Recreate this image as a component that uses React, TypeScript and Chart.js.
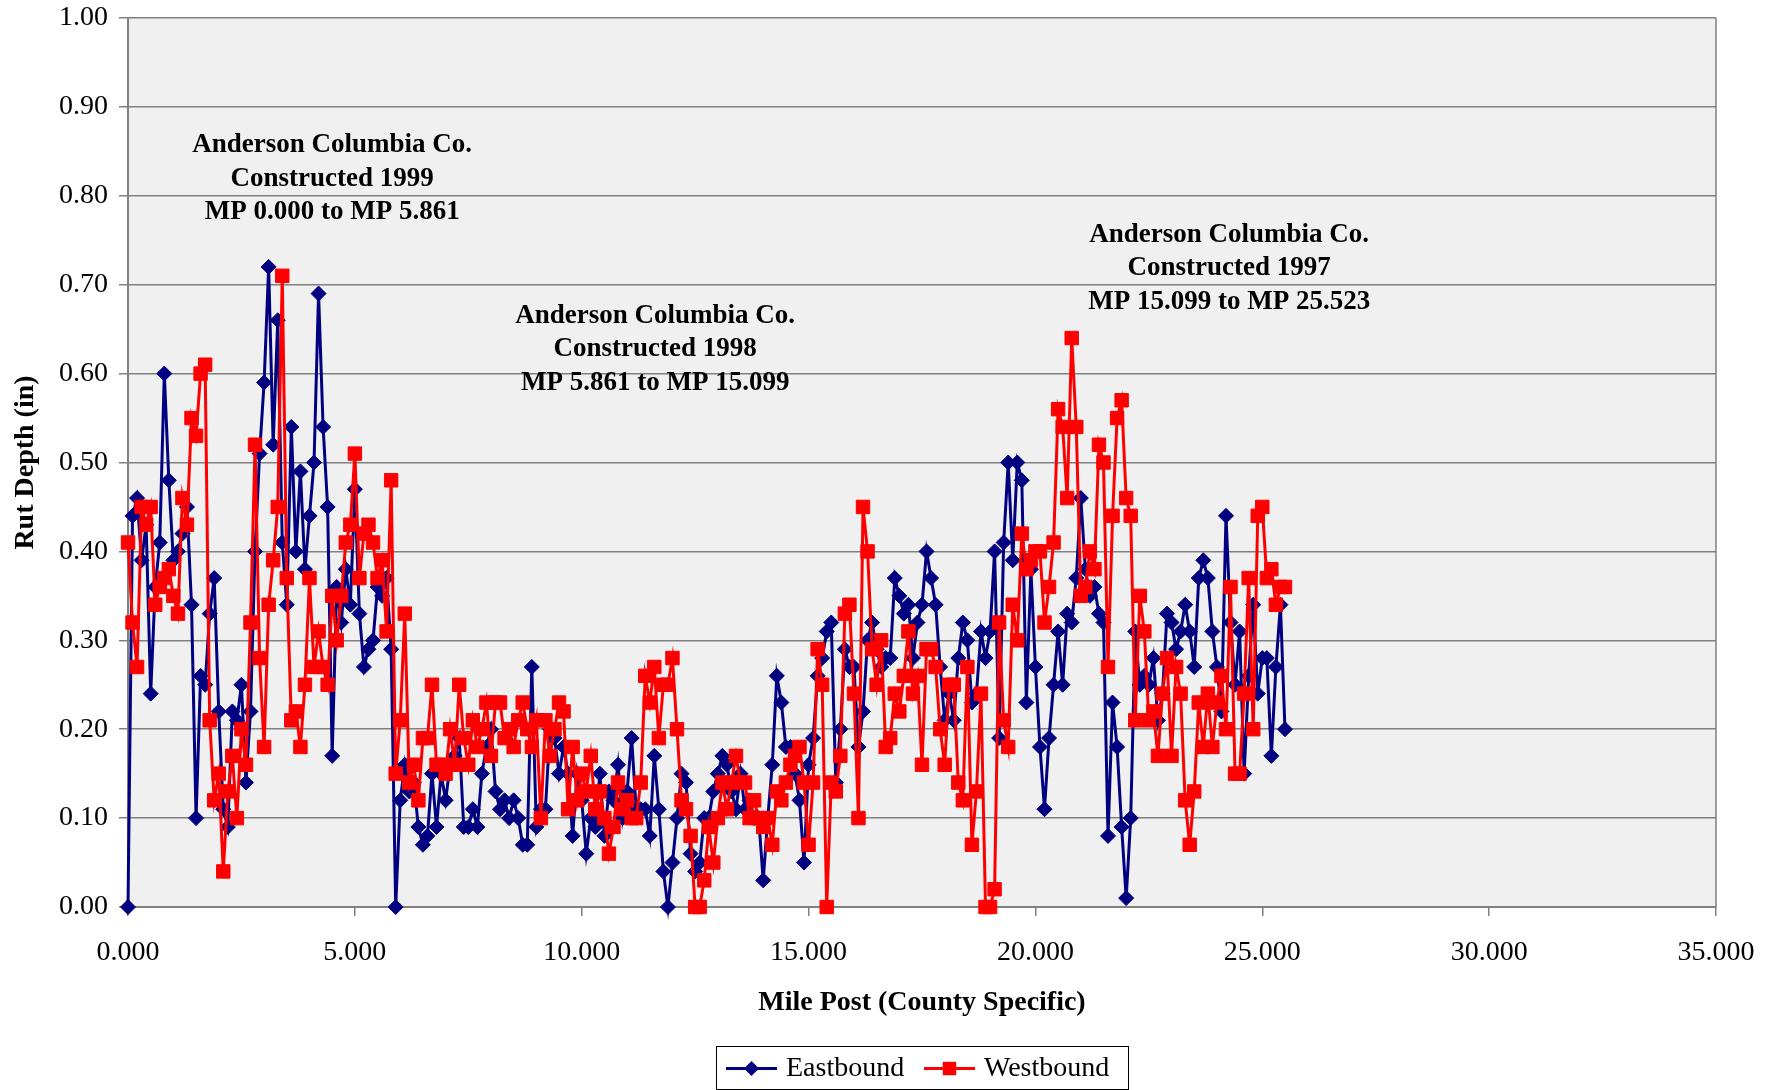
import React, { useEffect, useRef } from "react";
import { Chart, registerables } from "chart.js";

Chart.register(...registerables);

// Mile posts (shared by both directions)
const mileposts: number[] = [
  0.0, 0.1, 0.2, 0.3, 0.4, 0.5, 0.6, 0.7, 0.8, 0.9,
  1.0, 1.1, 1.2, 1.3, 1.4, 1.5, 1.6, 1.7, 1.8, 1.9,
  2.0, 2.1, 2.2, 2.3, 2.4, 2.5, 2.6, 2.7, 2.8, 2.9,
  3.0, 3.1, 3.2, 3.3, 3.4, 3.5, 3.6, 3.7, 3.8, 3.9,
  4.0, 4.1, 4.2, 4.3, 4.4, 4.5, 4.6, 4.7, 4.8, 4.9,
  5.0, 5.1, 5.2, 5.3, 5.4, 5.5, 5.6, 5.7, 5.8, 5.9,
  6.0, 6.1, 6.2, 6.3, 6.4, 6.5, 6.6, 6.7, 6.8, 6.9,
  7.0, 7.1, 7.2, 7.3, 7.4, 7.5, 7.6, 7.7, 7.8, 7.9,
  8.0, 8.1, 8.2, 8.3, 8.4, 8.5, 8.6, 8.7, 8.8, 8.9,
  9.0, 9.1, 9.2, 9.3, 9.4, 9.5, 9.6, 9.7, 9.8, 9.9,
  10.0, 10.1, 10.2, 10.3, 10.4, 10.5, 10.6, 10.7, 10.8, 10.9,
  11.0, 11.1, 11.2, 11.3, 11.4, 11.5, 11.6, 11.7, 11.8, 11.9,
  12.0, 12.1, 12.2, 12.3, 12.4, 12.5, 12.6, 12.7, 12.8, 12.9,
  13.0, 13.1, 13.2, 13.3, 13.4, 13.5, 13.6, 13.7, 13.8, 13.9,
  14.0, 14.1, 14.2, 14.3, 14.4, 14.5, 14.6, 14.7, 14.8, 14.9,
  15.0, 15.1, 15.2, 15.3, 15.4, 15.5, 15.6, 15.7, 15.8, 15.9,
  16.0, 16.1, 16.2, 16.3, 16.4, 16.5, 16.6, 16.7, 16.8, 16.9,
  17.0, 17.1, 17.2, 17.3, 17.4, 17.5, 17.6, 17.7, 17.8, 17.9,
  18.0, 18.1, 18.2, 18.3, 18.4, 18.5, 18.6, 18.7, 18.8, 18.9,
  19.0, 19.1, 19.2, 19.3, 19.4, 19.5, 19.6, 19.7, 19.8, 19.9,
  20.0, 20.1, 20.2, 20.3, 20.4, 20.5, 20.6, 20.7, 20.8, 20.9,
  21.0, 21.1, 21.2, 21.3, 21.4, 21.5, 21.6, 21.7, 21.8, 21.9,
  22.0, 22.1, 22.2, 22.3, 22.4, 22.5, 22.6, 22.7, 22.8, 22.9,
  23.0, 23.1, 23.2, 23.3, 23.4, 23.5, 23.6, 23.7, 23.8, 23.9,
  24.0, 24.1, 24.2, 24.3, 24.4, 24.5, 24.6, 24.7, 24.8, 24.9,
  25.0, 25.1, 25.2, 25.3, 25.4, 25.5,
];

// Rut depth (in), Eastbound
const eastbound: number[] = [
  0.00, 0.44, 0.46, 0.39, 0.43, 0.24, 0.36, 0.41, 0.60, 0.48,
  0.39, 0.40, 0.42, 0.45, 0.34, 0.10, 0.26, 0.25, 0.33, 0.37,
  0.22, 0.11, 0.09, 0.22, 0.21, 0.25, 0.14, 0.22, 0.40, 0.51,
  0.59, 0.72, 0.52, 0.66, 0.41, 0.34, 0.54, 0.40, 0.49, 0.38,
  0.44, 0.50, 0.69, 0.54, 0.45, 0.17, 0.36, 0.32, 0.38, 0.34,
  0.47, 0.33, 0.27, 0.29, 0.30, 0.36, 0.35, 0.37, 0.29, 0.00,
  0.12, 0.16, 0.13, 0.14, 0.09, 0.07, 0.08, 0.15, 0.09, 0.15,
  0.12, 0.16, 0.17, 0.19, 0.09, 0.09, 0.11, 0.09, 0.15, 0.18,
  0.20, 0.13, 0.11, 0.12, 0.10, 0.12, 0.10, 0.07, 0.07, 0.27,
  0.09, 0.11, 0.11, 0.20, 0.19, 0.15, 0.18, 0.15, 0.08, 0.15,
  0.12, 0.06, 0.10, 0.09, 0.15, 0.08, 0.13, 0.12, 0.16, 0.10,
  0.13, 0.19, 0.11, 0.11, 0.11, 0.08, 0.17, 0.11, 0.04, 0.00,
  0.05, 0.10, 0.15, 0.14, 0.06, 0.04, 0.05, 0.10, 0.10, 0.13,
  0.15, 0.17, 0.16, 0.13, 0.11, 0.15, 0.11, 0.12, 0.10, 0.10,
  0.03, 0.10, 0.16, 0.26, 0.23, 0.18, 0.18, 0.15, 0.12, 0.05,
  0.16, 0.19, 0.26, 0.28, 0.31, 0.32, 0.14, 0.20, 0.29, 0.27,
  0.27, 0.18, 0.22, 0.30, 0.32, 0.29, 0.27, 0.28, 0.28, 0.37,
  0.35, 0.33, 0.34, 0.28, 0.32, 0.34, 0.40, 0.37, 0.34, 0.27,
  0.21, 0.24, 0.21, 0.28, 0.32, 0.30, 0.23, 0.24, 0.31, 0.28,
  0.31, 0.40, 0.19, 0.41, 0.50, 0.39, 0.50, 0.48, 0.23, 0.38,
  0.27, 0.18, 0.11, 0.19, 0.25, 0.31, 0.25, 0.33, 0.32, 0.37,
  0.46, 0.38, 0.35, 0.36, 0.33, 0.32, 0.08, 0.23, 0.18, 0.09,
  0.01, 0.10, 0.31, 0.25, 0.26, 0.25, 0.28, 0.21, 0.24, 0.33,
  0.32, 0.29, 0.31, 0.34, 0.31, 0.27, 0.37, 0.39, 0.37, 0.31,
  0.27, 0.22, 0.44, 0.32, 0.25, 0.31, 0.15, 0.26, 0.34, 0.24,
  0.28, 0.28, 0.17, 0.27, 0.34, 0.20,
];

// Rut depth (in), Westbound
const westbound: number[] = [
  0.41, 0.32, 0.27, 0.45, 0.43, 0.45, 0.34, 0.36, 0.37, 0.38,
  0.35, 0.33, 0.46, 0.43, 0.55, 0.53, 0.60, 0.61, 0.21, 0.12,
  0.15, 0.04, 0.13, 0.17, 0.10, 0.20, 0.16, 0.32, 0.52, 0.28,
  0.18, 0.34, 0.39, 0.45, 0.71, 0.37, 0.21, 0.22, 0.18, 0.25,
  0.37, 0.27, 0.31, 0.27, 0.25, 0.35, 0.30, 0.35, 0.41, 0.43,
  0.51, 0.37, 0.42, 0.43, 0.41, 0.37, 0.39, 0.31, 0.48, 0.15,
  0.21, 0.33, 0.14, 0.16, 0.12, 0.19, 0.19, 0.25, 0.16, 0.16,
  0.15, 0.20, 0.16, 0.25, 0.19, 0.16, 0.21, 0.18, 0.20, 0.23,
  0.17, 0.23, 0.23, 0.19, 0.20, 0.18, 0.21, 0.23, 0.20, 0.18,
  0.21, 0.10, 0.21, 0.17, 0.20, 0.23, 0.22, 0.11, 0.18, 0.12,
  0.15, 0.13, 0.17, 0.11, 0.13, 0.10, 0.06, 0.09, 0.14, 0.11,
  0.12, 0.10, 0.10, 0.14, 0.26, 0.23, 0.27, 0.19, 0.25, 0.25,
  0.28, 0.20, 0.12, 0.11, 0.08, 0.00, 0.00, 0.03, 0.09, 0.05,
  0.10, 0.14, 0.11, 0.14, 0.17, 0.14, 0.14, 0.10, 0.12, 0.10,
  0.09, 0.10, 0.07, 0.13, 0.12, 0.14, 0.16, 0.17, 0.18, 0.14,
  0.07, 0.14, 0.29, 0.25, 0.00, 0.14, 0.13, 0.17, 0.33, 0.34,
  0.24, 0.10, 0.45, 0.40, 0.29, 0.25, 0.30, 0.18, 0.19, 0.24,
  0.22, 0.26, 0.31, 0.24, 0.26, 0.16, 0.29, 0.29, 0.27, 0.20,
  0.16, 0.25, 0.25, 0.14, 0.12, 0.27, 0.07, 0.13, 0.24, 0.00,
  0.00, 0.02, 0.32, 0.21, 0.18, 0.34, 0.30, 0.42, 0.38, 0.39,
  0.40, 0.40, 0.32, 0.36, 0.41, 0.56, 0.54, 0.46, 0.64, 0.54,
  0.35, 0.36, 0.40, 0.38, 0.52, 0.50, 0.27, 0.44, 0.55, 0.57,
  0.46, 0.44, 0.21, 0.35, 0.31, 0.21, 0.22, 0.17, 0.24, 0.28,
  0.17, 0.27, 0.24, 0.12, 0.07, 0.13, 0.23, 0.18, 0.24, 0.18,
  0.23, 0.26, 0.20, 0.36, 0.15, 0.15, 0.24, 0.37, 0.20, 0.44,
  0.45, 0.37, 0.38, 0.34, 0.36, 0.36,
];

const seriesNames: string[] = ["Eastbound", "Westbound"];
const xTitle = "Mile Post (County Specific)";
const yTitle = "Rut Depth (in)";

// Contractor notes: text lines, anchor milepost and anchor rut depth of first line
const noteLines: string[][] = [
  ["Anderson Columbia Co.", "Constructed 1999", "MP 0.000 to MP 5.861"],
  ["Anderson Columbia Co.", "Constructed 1998", "MP 5.861 to MP 15.099"],
  ["Anderson Columbia Co.", "Constructed 1997", "MP 15.099 to MP 25.523"],
];
const noteMile: number[] = [4.5, 11.62, 24.27];
const noteDepth: number[] = [0.857, 0.665, 0.756];

const FONT = '"Liberation Serif", "Times New Roman", serif';
const EAST_COLOR = "#000080";
const WEST_COLOR = "#FF0000";

const drawMarker = (ctx: CanvasRenderingContext2D, style: string, x: number, y: number, r: number, color: string) => {
  ctx.fillStyle = color;
  ctx.beginPath();
  if (style === "rectRot") {
    ctx.moveTo(x - r, y);
    ctx.lineTo(x, y - r);
    ctx.lineTo(x + r, y);
    ctx.lineTo(x, y + r);
    ctx.closePath();
  } else {
    const s = r * Math.SQRT1_2;
    ctx.rect(x - s, y - s, 2 * s, 2 * s);
  }
  ctx.fill();
};

const decorPlugin = {
  id: "decor",
  beforeDraw(chart: any) {
    const { ctx, chartArea: a } = chart;
    ctx.save();
    ctx.fillStyle = "#FFFFFF";
    ctx.fillRect(0, 0, chart.width, chart.height);
    ctx.fillStyle = "#F0F0F0";
    ctx.fillRect(a.left, a.top, a.right - a.left, a.bottom - a.top);
    ctx.restore();
  },
  beforeDatasetsDraw(chart: any) {
    const { ctx, chartArea: a } = chart;
    ctx.save();
    ctx.strokeStyle = "#808080";
    ctx.lineWidth = 1.5;
    ctx.beginPath();
    ctx.moveTo(a.right, a.top);
    ctx.lineTo(a.right, a.bottom);
    ctx.stroke();
    ctx.restore();
  },
  afterDraw(chart: any) {
    const { ctx } = chart;
    const xs = chart.scales.x;
    const ys = chart.scales.y;
    ctx.save();
    // notes
    ctx.fillStyle = "#000000";
    ctx.font = `bold 27px ${FONT}`;
    ctx.textAlign = "center";
    ctx.textBaseline = "middle";
    noteLines.forEach((lines, i) => {
      const x = xs.getPixelForValue(noteMile[i]);
      const y0 = ys.getPixelForValue(noteDepth[i]);
      lines.forEach((t, j) => ctx.fillText(t, x, y0 + j * 33.5));
    });
    // legend
    const bx = 716, by = 1046, bw = 412, bh = 43;
    ctx.strokeStyle = "#000000";
    ctx.lineWidth = 1;
    ctx.strokeRect(bx + 0.5, by + 0.5, bw, bh);
    const cy = by + bh / 2 + 1;
    const items = [
      { name: seriesNames[0], color: EAST_COLOR, style: "rectRot", r: 7.5, x0: 726, x1: 777, tx: 786 },
      { name: seriesNames[1], color: WEST_COLOR, style: "rect", r: 9.5, x0: 924, x1: 975, tx: 984 },
    ];
    ctx.font = `28px ${FONT}`;
    ctx.textAlign = "left";
    items.forEach((it) => {
      ctx.strokeStyle = it.color;
      ctx.lineWidth = 3;
      ctx.beginPath();
      ctx.moveTo(it.x0, cy);
      ctx.lineTo(it.x1, cy);
      ctx.stroke();
      drawMarker(ctx, it.style, (it.x0 + it.x1) / 2, cy, it.r, it.color);
      ctx.fillStyle = "#000000";
      ctx.fillText(it.name, it.tx, cy);
    });
    ctx.restore();
  },
};

export default function App() {
  const canvasRef = useRef<HTMLCanvasElement | null>(null);

  useEffect(() => {
    document.body.style.margin = "0";
    const canvas = canvasRef.current;
    if (!canvas) return;
    const eastData = mileposts.map((m, i) => ({ x: m, y: eastbound[i] }));
    const westData = mileposts.map((m, i) => ({ x: m, y: westbound[i] }));

    const chart = new Chart(canvas, {
      type: "line",
      data: {
        datasets: [
          {
            label: seriesNames[0],
            data: eastData,
            borderColor: EAST_COLOR,
            backgroundColor: EAST_COLOR,
            borderWidth: 3,
            pointStyle: "rectRot",
            pointRadius: 7.5,
            pointBorderWidth: 1,
            pointBackgroundColor: EAST_COLOR,
            pointBorderColor: EAST_COLOR,
            tension: 0,
            fill: false,
            clip: false,
            order: 1,
          },
          {
            label: seriesNames[1],
            data: westData,
            borderColor: WEST_COLOR,
            backgroundColor: WEST_COLOR,
            borderWidth: 3,
            pointStyle: "rect",
            pointRadius: 9.5,
            pointBorderWidth: 1,
            pointBackgroundColor: WEST_COLOR,
            pointBorderColor: WEST_COLOR,
            tension: 0,
            fill: false,
            clip: false,
            order: 0,
          },
        ],
      },
      options: {
        responsive: false,
        animation: false,
        layout: { padding: { top: 18, right: 62, left: 0, bottom: 0 } },
        plugins: {
          legend: { display: false },
          tooltip: { enabled: false },
        },
        scales: {
          x: {
            type: "linear",
            min: 0,
            max: 35,
            ticks: {
              stepSize: 5,
              autoSkip: false,
              maxRotation: 0,
              color: "#000000",
              padding: 20,
              font: { family: FONT, size: 28 },
              callback: (v: any) => Number(v).toFixed(3),
            },
            grid: { drawOnChartArea: false, drawTicks: true, tickLength: 9, color: "#808080", lineWidth: 1.5 },
            border: { color: "#808080", width: 2 },
            title: {
              display: true,
              text: xTitle,
              color: "#000000",
              font: { family: FONT, size: 28, weight: "bold" },
              padding: { top: 0, bottom: 70 },
            },
            afterFit: (s: any) => {
              s.height = 183;
              s.paddingLeft = 0;
              s.paddingRight = 0;
            },
          },
          y: {
            type: "linear",
            min: 0,
            max: 1,
            ticks: {
              stepSize: 0.1,
              autoSkip: false,
              color: "#000000",
              padding: 11,
              font: { family: FONT, size: 28 },
              callback: (v: any) => Number(v).toFixed(2),
            },
            grid: { color: "#808080", lineWidth: 1.5, tickLength: 9, drawTicks: true },
            border: { color: "#808080", width: 2 },
            title: {
              display: true,
              text: yTitle,
              color: "#000000",
              font: { family: FONT, size: 28, weight: "bold" },
              padding: { top: 9, bottom: 0 },
            },
            afterFit: (s: any) => {
              s.width = 128;
              s.paddingTop = 0;
              s.paddingBottom = 0;
            },
          },
        },
      },
      plugins: [decorPlugin],
    } as any);

    return () => chart.destroy();
  }, []);

  return (
    <div style={{ width: 1778, height: 1090 }}>
      <canvas ref={canvasRef} width={1778} height={1090} style={{ display: "block" }} />
    </div>
  );
}
